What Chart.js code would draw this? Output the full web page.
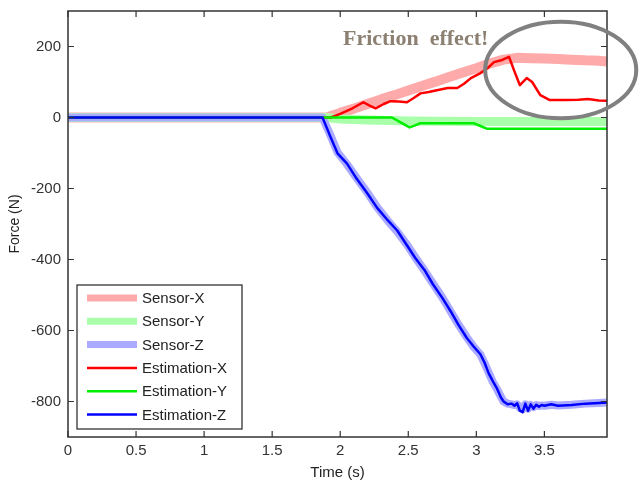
<!DOCTYPE html>
<html><head><meta charset="utf-8">
<script src="https://cdn.jsdelivr.net/npm/chart.js@4/dist/chart.umd.min.js"></script>
<style>html,body{margin:0;padding:0;background:#fff;}#wrap{width:640px;height:482px;}</style>
</head><body><div id="wrap"><canvas id="c" width="640" height="482"></canvas></div>
<script>
// ---- data ----
const xTicks = [0, 0.5, 1, 1.5, 2, 2.5, 3, 3.5];
const yTicks = [-800, -600, -400, -200, 0, 200];

const sensorXTime = [0, 1.9, 2.0, 2.1, 2.2, 2.3, 2.4, 2.5, 2.6, 2.7, 2.8, 2.9, 3.0, 3.1, 3.2, 3.3, 3.4, 3.5, 3.6, 3.7, 3.8, 3.9, 3.96];
const sensorX     = [0, 0,   13,  25,  38,  51,  63,  76,  89,  101, 114, 127, 139, 152, 163, 168, 167, 166, 165, 163, 161, 160, 158];

const sensorYTime = [0, 1.9, 2.0, 2.2, 2.5, 3.0, 3.5, 3.96];
const sensorY     = [0, 0,   -4,  -7,  -10, -11, -11, -11];

const zTime = [0, 1.87, 1.93, 1.98, 2.05, 2.12, 2.2, 2.27, 2.35, 2.42, 2.49, 2.55, 2.62, 2.68, 2.75, 2.81, 2.87, 2.93, 2.98, 3.03, 3.06, 3.09, 3.12, 3.15, 3.18, 3.2, 3.23, 3.26, 3.28, 3.3, 3.32, 3.34, 3.36, 3.38, 3.4, 3.42, 3.44, 3.46, 3.48, 3.5, 3.55, 3.6, 3.7, 3.8, 3.9, 3.96];
const sensorZ     = [0, 0, -52, -98, -132, -170, -212, -252, -291, -322, -358, -393, -432, -467, -507, -546, -584, -619, -646, -668, -692, -718, -744, -764, -786, -800, -806, -808, -810, -808, -818, -822, -808, -820, -810, -816, -810, -813, -811, -812, -809, -811, -809, -806, -804, -803];
const estimationZ = [0, 0, -56, -101, -130, -172, -214, -254, -290, -319, -360, -395, -430, -469, -508, -545, -585, -621, -645, -667, -690, -720, -742, -762, -788, -800, -808, -806, -812, -805, -826, -830, -806, -826, -808, -820, -809, -815, -810, -812, -808, -812, -810, -806, -804, -803];

const estXTime    = [0, 1.93, 2.0, 2.09, 2.17, 2.22, 2.26, 2.32, 2.37, 2.43, 2.49, 2.54, 2.59, 2.65, 2.71, 2.79, 2.86, 2.91, 2.96, 3.03, 3.08, 3.13, 3.19, 3.24, 3.28, 3.32, 3.37, 3.41, 3.47, 3.54, 3.65, 3.75, 3.82, 3.9, 3.96];
const estimationX = [0, 0,    10,  26,   43,   33,   26,   38,   46,   45,   43,   55,   68,   72,   77,   83,   83,   95,   111,  125,  138,  156,  162,  171,  130,  91,   111,  100,  63,   49,   49,   50,   52,   48,  47];

const estYTime    = [0, 2.38, 2.45, 2.51, 2.55, 2.59, 2.98, 3.03, 3.08, 3.5, 3.96];
const estimationY = [0, 0,    -15,  -28,  -22,  -16,  -16,  -24,  -32,  -32, -32];

const seriesNames = ['Sensor-X', 'Sensor-Y', 'Sensor-Z', 'Estimation-X', 'Estimation-Y', 'Estimation-Z'];
const annotationText = 'Friction  effect!';

// ---- build ----
const pts = (xs, ys) => xs.map((x, i) => ({x: x, y: ys[i]}));
const mk = (label, xs, ys, color, width, order) => ({
  label, data: pts(xs, ys), borderColor: color, backgroundColor: color,
  borderWidth: width, pointRadius: 0, tension: 0, fill: false, order,
  borderJoinStyle: 'round', borderCapStyle: 'butt'
});
const datasets = [
  mk(seriesNames[0], sensorXTime, sensorX, '#ffaaaa', 10, 6),
  mk(seriesNames[1], sensorYTime, sensorY, '#aaffaa', 9, 5),
  mk(seriesNames[2], zTime, sensorZ, '#aaaaff', 8, 4),
  mk(seriesNames[3], estXTime, estimationX, '#ff0000', 2.5, 3),
  mk(seriesNames[4], estYTime, estimationY, '#00ee00', 2.5, 2),
  mk(seriesNames[5], zTime, estimationZ, '#0000ff', 2.5, 1)
];

const AX = '#333333';
const frame = {
  id: 'frame',
  afterDatasetsDraw(chart) {
    const {ctx, chartArea: a, scales: {x, y}} = chart;
    ctx.save();
    ctx.strokeStyle = AX; ctx.lineWidth = 1.5;
    ctx.strokeRect(a.left, a.top, a.right - a.left, a.bottom - a.top);
    ctx.lineWidth = 1.2;
    const L = 6;
    ctx.beginPath();
    xTicks.forEach(v => { const px = x.getPixelForValue(v);
      ctx.moveTo(px, a.bottom); ctx.lineTo(px, a.bottom - L);
      ctx.moveTo(px, a.top); ctx.lineTo(px, a.top + L); });
    yTicks.forEach(v => { const py = y.getPixelForValue(v);
      ctx.moveTo(a.left, py); ctx.lineTo(a.left + L, py);
      ctx.moveTo(a.right, py); ctx.lineTo(a.right - L, py); });
    ctx.stroke();

    // legend box
    const bx = 77, by = 285, bw = 165, bh = 144;
    ctx.fillStyle = '#fff'; ctx.fillRect(bx, by, bw, bh);
    ctx.strokeStyle = AX; ctx.lineWidth = 1.3; ctx.strokeRect(bx, by, bw, bh);
    ctx.font = '15px "Liberation Sans", Arial, sans-serif';
    ctx.textBaseline = 'middle'; ctx.textAlign = 'left';
    chart.data.datasets.forEach((ds, i) => {
      const ry = by + 13 + i * 23.3;
      ctx.strokeStyle = ds.borderColor;
      ctx.lineWidth = i < 3 ? 7 : 2.5;
      ctx.beginPath(); ctx.moveTo(87, ry); ctx.lineTo(137, ry); ctx.stroke();
      ctx.fillStyle = '#222'; ctx.fillText(ds.label, 142, ry + 1);
    });
    ctx.restore();
  },
  afterDraw(chart) {
    const {ctx, scales: {x, y}} = chart;
    ctx.save();
    ctx.font = 'bold 22px "Liberation Serif", "Times New Roman", serif';
    ctx.fillStyle = '#8c8072'; ctx.textBaseline = 'alphabetic'; ctx.textAlign = 'left';
    ctx.fillText(annotationText, x.getPixelForValue(2.02), y.getPixelForValue(204));
    const cx = x.getPixelForValue(3.62), cy = y.getPixelForValue(134);
    const rx = x.getPixelForValue(3.62 + 0.555) - cx, ry = y.getPixelForValue(0) - y.getPixelForValue(136);
    ctx.strokeStyle = '#808080'; ctx.lineWidth = 4;
    ctx.beginPath(); ctx.ellipse(cx, cy, rx, ry, 0, 0, Math.PI * 2); ctx.stroke();
    ctx.restore();
  }
};

const FONT = '"Liberation Sans", Arial, sans-serif';
new Chart(document.getElementById('c'), {
  type: 'line',
  data: {datasets},
  options: {
    responsive: false, animation: false, devicePixelRatio: 1,
    layout: {padding: {top: 11, right: 33, left: 0, bottom: 0}},
    plugins: {legend: {display: false}, tooltip: {enabled: false}},
    scales: {
      x: {
        type: 'linear', min: 0, max: 3.96,
        afterBuildTicks: s => { s.ticks = xTicks.map(v => ({value: v})); },
        afterFit: s => { s.height = 45; s.paddingLeft = 0; s.paddingRight = 0; },
        grid: {display: false, drawTicks: false},
        border: {display: false},
        ticks: {padding: 5, color: AX, font: {family: FONT, size: 15}, maxRotation: 0, autoSkip: false,
                callback: v => String(v)},
        title: {display: true, text: 'Time (s)', color: '#222', font: {family: FONT, size: 15}, padding: {top: 0, bottom: 0}}
      },
      y: {
        type: 'linear', min: -900, max: 300,
        afterBuildTicks: s => { s.ticks = yTicks.map(v => ({value: v})); },
        afterFit: s => { s.width = 68; s.paddingTop = 0; s.paddingBottom = 0; },
        grid: {display: false, drawTicks: false},
        border: {display: false},
        ticks: {padding: 7, color: AX, font: {family: FONT, size: 15}, autoSkip: false,
                callback: v => String(v)},
        title: {display: true, text: 'Force (N)', color: '#222', font: {family: FONT, size: 14}, padding: {top: 7, bottom: 0}}
      }
    }
  },
  plugins: [frame]
});
</script></body></html>
